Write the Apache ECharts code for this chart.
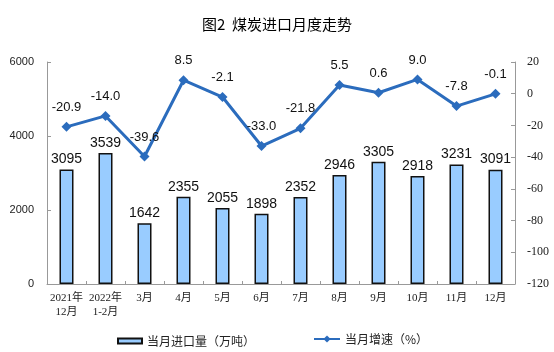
<!DOCTYPE html>
<html>
<head>
<meta charset="utf-8">
<script src="https://cdn.jsdelivr.net/npm/echarts@6/dist/echarts.min.js"></script>
<style>
  html, body { margin: 0; padding: 0; background: #fff; }
  #chart { width: 554px; height: 352px; }
</style>
</head>
<body>
<div id="chart"></div>
<script>
const categories = ['2021年\n12月', '2022年\n1-2月', '3月', '4月', '5月', '6月', '7月', '8月', '9月', '10月', '11月', '12月'];
const importVolume = [3095, 3539, 1642, 2355, 2055, 1898, 2352, 2946, 3305, 2918, 3231, 3091];
const growthRate = [-20.9, -14.0, -39.6, 8.5, -2.1, -33.0, -21.8, 5.5, 0.6, 9.0, -7.8, -0.1];
const barName = '当月进口量（万吨）';
const lineName = '当月增速（%）';

const chart = echarts.init(document.getElementById('chart'));

const axisFont = 'Liberation Serif, Noto Sans CJK SC, serif';
const labelFont = 'Liberation Sans, Arial, sans-serif';

chart.setOption({
  animation: false,
  title: {
    text: '图2  煤炭进口月度走势',
    left: 'center',
    top: 12,
    textStyle: {
      fontFamily: 'Noto Sans CJK SC',
      fontSize: 15,
      fontWeight: 'normal',
      color: '#000'
    }
  },
  legend: [
    {
      data: [{name: barName, icon: 'rect'}],
      left: 112,
      top: 330,
      itemWidth: 24,
      itemHeight: 5,
      itemGap: 4,
      textStyle: {fontFamily: 'Noto Sans CJK SC', fontSize: 12, color: '#222'}
    },
    {
      data: [{name: lineName}],
      left: 308,
      top: 328,
      itemWidth: 26,
      itemHeight: 9,
      textStyle: {fontFamily: 'Noto Sans CJK SC', fontSize: 12, color: '#222'}
    }
  ],
  grid: {
    left: 47,
    right: 39,
    top: 62,
    bottom: 68
  },
  xAxis: {
    type: 'category',
    data: categories,
    axisLine: {lineStyle: {color: '#999'}},
    axisTick: {show: true, inside: true, length: 3, lineStyle: {color: '#999'}},
    axisLabel: {
      interval: 0,
      margin: 7,
      fontFamily: axisFont,
      fontSize: 11,
      lineHeight: 14,
      color: '#222'
    }
  },
  yAxis: [
    {
      type: 'value',
      min: 0,
      max: 6000,
      interval: 2000,
      splitLine: {show: false},
      axisLine: {show: true, lineStyle: {color: '#999'}},
      axisTick: {show: true, inside: true, length: 4, lineStyle: {color: '#999'}},
      axisLabel: {
        margin: 13,
        fontFamily: labelFont,
        fontSize: 11,
        color: '#222',
        formatter: v => String(v)
      }
    },
    {
      type: 'value',
      min: -120,
      max: 20,
      interval: 20,
      splitLine: {show: false},
      axisLine: {show: true, lineStyle: {color: '#999'}},
      axisTick: {show: true, inside: true, length: 4, lineStyle: {color: '#999'}},
      axisLabel: {margin: 12, fontFamily: axisFont, fontSize: 12, color: '#222'}
    }
  ],
  series: [
    {
      name: barName,
      type: 'bar',
      yAxisIndex: 0,
      data: importVolume,
      barWidth: 14,
      itemStyle: {
        color: '#99ccff',
        borderColor: '#111',
        borderWidth: 1.5
      },
      label: {
        show: true,
        position: 'top',
        distance: 3,
        fontFamily: labelFont,
        fontSize: 14,
        color: '#111'
      }
    },
    {
      name: lineName,
      type: 'line',
      yAxisIndex: 1,
      data: growthRate,
      symbol: 'diamond',
      symbolSize: 10,
      lineStyle: {color: '#2b6cbd', width: 3},
      itemStyle: {color: '#2b6cbd'},
      label: {
        show: true,
        position: 'top',
        distance: 8,
        fontFamily: labelFont,
        fontSize: 13,
        color: '#111',
        formatter: p => p.value.toFixed(1)
      },
      z: 5
    }
  ]
});
</script>
</body>
</html>
